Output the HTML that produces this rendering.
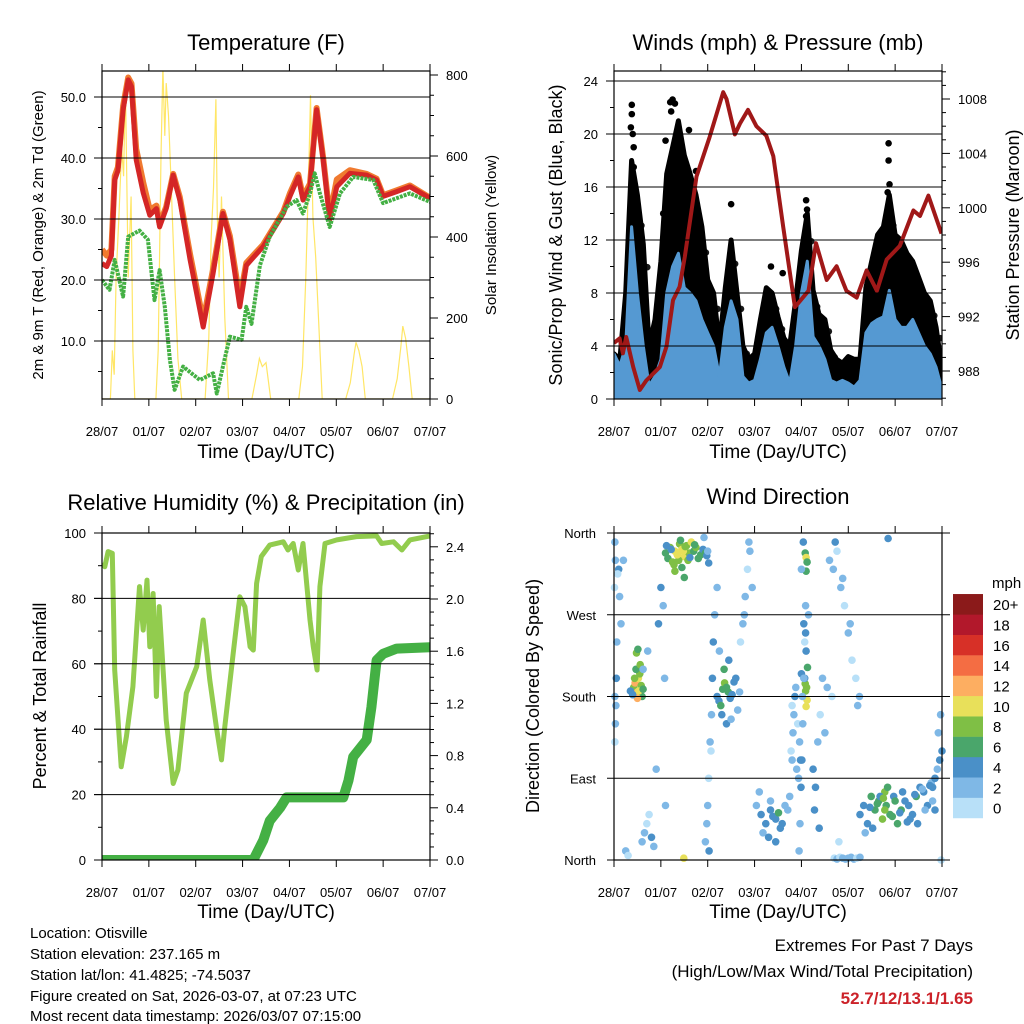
<!DOCTYPE html>
<html><head><meta charset="utf-8"><style>
html,body{margin:0;padding:0;background:#fff}
svg{display:block;font-family:"Liberation Sans",sans-serif}
</style></head><body>
<svg id="chart" width="1024" height="1024" viewBox="0 0 1024 1024">
<rect x="0" y="0" width="1024" height="1024" fill="#fff"/>
<defs>
<clipPath id="cT"><rect x="102" y="71" width="328" height="328"/></clipPath>
<clipPath id="cW"><rect x="614" y="71" width="328" height="328"/></clipPath>
<clipPath id="cR"><rect x="102" y="533" width="328" height="327"/></clipPath>
<clipPath id="cD"><rect x="610" y="529" width="336" height="335"/></clipPath>
</defs>
<g id="layer"></g>
<g font-size="22" text-anchor="middle" fill="#000">
<text x="266" y="50">Temperature (F)</text>
<text x="778" y="50">Winds (mph) &amp; Pressure (mb)</text>
<text x="266" y="510">Relative Humidity (%) &amp; Precipitation (in)</text>
<text x="778" y="504">Wind Direction</text>
</g>
<g font-size="19" text-anchor="middle">
<text x="266" y="458">Time (Day/UTC)</text>
<text x="778" y="458">Time (Day/UTC)</text>
<text x="266" y="918">Time (Day/UTC)</text>
<text x="778" y="918">Time (Day/UTC)</text>
</g>
<text transform="translate(43,235) rotate(-90)" font-size="15" text-anchor="middle">2m &amp; 9m T (Red, Orange) &amp; 2m Td (Green)</text>
<text transform="translate(496,235) rotate(-90)" font-size="15" text-anchor="middle">Solar Insolation (Yellow)</text>
<text transform="translate(562,235) rotate(-90)" font-size="18" text-anchor="middle">Sonic/Prop Wind &amp; Gust (Blue, Black)</text>
<text transform="translate(1019,235) rotate(-90)" font-size="18" text-anchor="middle">Station Pressure (Maroon)</text>
<text transform="translate(46,696) rotate(-90)" font-size="18" text-anchor="middle">Percent &amp; Total Rainfall</text>
<text transform="translate(539,696) rotate(-90)" font-size="18" text-anchor="middle">Direction (Colored By Speed)</text>
<g font-size="15">
<text x="30" y="938">Location: Otisville</text>
<text x="30" y="959">Station elevation: 237.165 m</text>
<text x="30" y="980">Station lat/lon: 41.4825; -74.5037</text>
<text x="30" y="1001">Figure created on Sat, 2026-03-07, at 07:23 UTC</text>
<text x="30" y="1021">Most recent data timestamp: 2026/03/07 07:15:00</text>
</g>
<g font-size="17" text-anchor="end">
<text x="973" y="951">Extremes For Past 7 Days</text>
<text x="973" y="977">(High/Low/Max Wind/Total Precipitation)</text>
<text x="973" y="1004" fill="#cc2229" font-weight="bold">52.7/12/13.1/1.65</text>
</g>
<text x="992" y="588" font-size="15">mph</text>
</svg>
<script>
// ---- data ----
const dayLabels = ["28/07","01/07","02/07","03/07","04/07","05/07","06/07","07/07"];
const tempT = [0,0.1,0.2,0.27,0.34,0.45,0.56,0.63,0.73,0.88,1.02,1.16,1.23,1.37,1.52,1.66,1.88,2.16,2.37,2.58,2.73,2.94,3.08,3.44,3.87,4.01,4.19,4.29,4.44,4.58,4.72,4.86,5.01,5.29,5.65,5.86,6.0,6.29,6.57,7.0];
const temp2m = [22.7,22.2,24.0,36.4,37.9,47.9,52.8,51.7,39.7,34.3,30.6,31.7,28.7,31.7,37.2,33.1,23.3,12.3,21.1,30.9,26.6,15.6,22.4,25.5,30.9,33.7,36.9,33.1,35.3,47.9,39.7,29.9,35.3,37.5,37.2,36.4,33.7,34.5,35.3,33.4];
const temp9m = [25.0,24.0,25.0,37.0,38.5,48.5,53.2,52.2,41.5,36.0,31.5,32.2,29.2,32.0,37.4,33.6,24.2,13.3,21.8,31.2,27.2,16.8,22.8,25.8,31.2,34.2,37.3,33.6,35.8,48.2,40.0,30.5,36.5,38.0,37.4,36.6,33.9,34.7,35.5,33.5];
const dewT = [0,0.16,0.27,0.45,0.56,0.8,0.98,1.12,1.23,1.34,1.45,1.55,1.73,2.09,2.37,2.45,2.58,2.73,2.98,3.08,3.19,3.37,3.58,3.94,4.15,4.29,4.44,4.54,4.65,4.86,5.08,5.36,5.79,6.0,6.57,7.0];
const dewV = [20.0,18.4,23.3,17.3,27.1,28.1,26.6,16.7,21.6,15.6,6.9,2.0,5.8,3.6,4.7,1.4,5.8,10.7,10.2,15.6,12.8,22.4,27.1,32.0,33.1,30.9,34.2,37.5,34.2,28.7,34.2,36.9,36.4,32.6,34.2,32.8];
const solarT = [0,0.18,0.22,0.26,0.3,0.36,0.42,0.46,0.5,0.56,0.62,0.66,0.7,1.15,1.2,1.26,1.3,1.34,1.37,1.42,1.48,1.55,1.62,1.7,2.2,2.28,2.33,2.38,2.43,2.46,2.5,2.55,2.62,2.7,3.2,3.3,3.36,3.42,3.5,3.6,4.2,4.28,4.35,4.42,4.45,4.5,4.56,4.62,4.7,5.2,5.3,5.38,5.42,5.48,5.55,5.62,6.2,6.3,6.38,6.42,6.48,6.55,6.62,7.0];
const solarV = [0,0,120,60,300,450,620,550,780,300,500,120,0,0,120,600,820,650,780,700,520,300,100,0,0,150,400,520,740,450,300,500,200,0,0,60,100,80,90,0,0,80,300,600,750,450,350,200,0,0,40,110,140,120,80,0,0,50,130,180,150,80,0,0];
const windT = [0,0.125,0.25,0.375,0.5,0.625,0.75,0.875,1,1.125,1.25,1.375,1.5,1.625,1.75,1.875,2,2.125,2.25,2.375,2.5,2.625,2.75,2.875,3,3.125,3.25,3.375,3.5,3.625,3.75,3.875,4,4.125,4.25,4.375,4.5,4.625,4.75,4.875,5,5.125,5.25,5.375,5.5,5.625,5.75,5.875,6,6.125,6.25,6.375,6.5,6.625,6.75,6.875,7];
const gustHi = [3.4,3,8,18,15.4,11.7,4,6,10.4,17,19,21,18.4,17,15.4,13,9,8,4,8.4,12,8,4,3,3.4,6,8.4,8,6.2,4.6,4,7.4,11.2,14,8.2,6.4,6,3.7,3,2.7,3.2,3,3,8.4,10.4,12.4,13,15.4,12.4,12,11,10.4,9.2,8,7.4,5.4,2.2];
const sustHi = [3.4,2.5,4,13,8,4,1,1.7,3,8,10,11,8.4,8,7.4,6,5,4,1.7,5.4,7.4,6,1.7,1.2,1.4,3,5,5.4,4,2.4,1.2,4,8,10.4,4.7,4,3,1.4,1.2,1.4,1.2,0.9,1.4,5,5.7,6,6.2,8.2,6,5.4,5.4,6,5,4,3.4,2.4,0.7];
const gustOutT = [0.38,0.38,0.4,0.42,0.42,1.2,1.25,1.22,1.3,1.45,1.75,2.5,4.1,4.12,4.1,5.86,5.86,5.88,5.84,3.35,3.6,1.05,0.36,1.1,1.6];
const gustOutV = [22.2,21.5,20,19,17.5,22.4,22.6,21.7,22.3,18.5,17.2,14.7,15,14.3,13.8,19.3,18,16.2,15.6,10,9.5,14,20.5,19.5,20.3];
const presT = [0,0.12,0.19,0.26,0.41,0.55,0.69,0.98,1.12,1.26,1.4,1.51,1.76,2.04,2.26,2.33,2.4,2.58,2.69,2.86,3.04,3.25,3.4,3.61,3.86,4.15,4.31,4.54,4.75,4.96,5.18,5.39,5.61,5.82,6.1,6.39,6.53,6.71,6.89,6.99];
const presV = [990.06,990.4,989.3,990.5,988.3,986.6,987.3,988.3,989.8,993.2,994.2,996.4,1002.3,1005.2,1007.7,1008.5,1008.0,1005.4,1006.2,1007.2,1006.0,1005.3,1003.8,998.6,992.7,993.9,997.4,994.7,995.7,993.9,993.4,995.4,993.9,996.2,997.2,999.8,999.4,1000.9,999.1,998.1];
const rhT = [0,0.06,0.13,0.22,0.27,0.41,0.52,0.66,0.8,0.88,0.96,1.02,1.09,1.16,1.22,1.37,1.52,1.62,1.8,2.02,2.16,2.3,2.44,2.55,2.62,2.8,2.94,3.05,3.16,3.23,3.3,3.4,3.58,3.87,3.97,4.08,4.19,4.29,4.44,4.51,4.59,4.65,4.76,5.01,5.43,5.86,5.97,6.22,6.4,6.57,7.0];
const rhV = [90.7,89.7,94.3,93.8,58.1,28.5,37.7,53,83.6,70.3,85.6,65.2,81.5,50,77.5,42.8,23.4,27.5,51,59.1,73.4,55,40.8,30.6,40.8,63.2,80.5,77.5,65.2,64.2,84.6,92.8,96.3,97.3,94.8,96.8,88.7,96.8,73.4,65.2,58.1,83.6,96.8,97.9,98.9,99.1,96.8,97.3,94.8,97.9,99.1];
const prT = [0,3.23,3.44,3.58,3.8,3.94,5.15,5.26,5.36,5.65,5.75,5.86,6.0,6.29,7.0];
const prV = [0,0,0.15,0.3,0.4,0.48,0.48,0.61,0.79,0.92,1.17,1.53,1.58,1.62,1.63];
const dirT = [1.1,1.15,1.2,1.25,1.3,1.35,1.4,1.45,1.5,1.55,1.6,1.65,1.7,1.75,1.8,1.85,1.9,1.95,1.28,1.38,1.42,1.48,1.52,1.58,1.35,1.45,1.62,1.72,1.12,1.22,1.98,2.02,1.3,1.5,
0.42,0.45,0.48,0.5,0.52,0.55,0.58,0.6,0.47,0.5,0.53,0.44,0.56,0.48,0.51,0.62,0.4,0.35,
2.2,2.24,2.28,2.32,2.36,2.4,2.44,2.48,2.52,2.56,2.6,2.64,2.3,2.4,2.5,2.35,2.45,2.25,2.68,
4.08,4.1,4.12,4.1,4.08,4.11,4.09,4.12,4.1,4.07,4.13,4.1,4.09,4.05,4.15,4.0,4.02,
5.25,5.33,5.41,5.49,5.57,5.65,5.73,5.78,5.81,5.89,5.97,6.05,6.13,6.21,6.29,6.37,6.45,6.53,6.61,6.69,6.77,6.85,5.36,5.52,5.68,5.84,6.0,6.16,6.32,6.48,6.64,6.8,5.46,5.62,5.75,5.78,5.94,6.1,6.26,6.42,6.58,6.74,
3.04,3.14,3.24,3.34,3.45,3.55,3.65,3.75,3.18,3.3,3.39,3.51,3.59,3.1,3.71,3.34,3.45,
0.02,0.03,0.01,0.05,0.02,0.04,0.03,0.02,0.06,0.1,0.12,0.15,0.2,0.25,0.3,0.08,
0.6,0.65,0.7,0.75,0.8,0.85,0.9,0.95,1.0,1.05,1.08,0.62,0.72,1.1,
1.95,1.98,2.0,2.02,2.05,2.08,2.1,2.12,2.15,2.2,2.0,1.92,2.03,2.07,
2.75,2.8,2.85,2.9,2.95,2.7,2.78,2.88,
3.78,3.8,3.82,3.84,3.86,3.88,3.9,3.92,3.94,3.8,3.96,3.98,
3.95,3.97,3.99,4.01,4.03,4.05,4.07,4.09,4.0,4.04,
4.25,4.3,4.35,4.4,4.45,4.55,4.65,4.28,4.38,4.5,
4.6,4.68,4.76,4.84,4.92,5.0,5.08,5.16,5.24,4.72,4.88,5.04,5.2,4.8,
4.7,4.76,4.82,4.88,4.94,5.0,5.06,5.12,5.18,5.25,
6.8,6.85,6.9,6.95,7.0,6.92,6.97,6.98,1.49,5.85];
const dirD = [338,332,344,328,340,336,348,342,334,346,338,350,340,344,332,336,342,338,325,330,352,340,345,330,336,322,333,347,346,342,335,327,318,311,
190,195,198,185,200,205,192,180,210,178,186,200,215,228,232,188,182,186,
180,175,170,188,195,190,185,178,182,196,200,165,160,150,155,210,220,230,185,
338,333,328,318,194,190,186,176,169,200,212,230,250,260,270,205,180,
50,60,40,70,55,65,45,75,60,50,70,40,55,65,60,50,70,80,75,60,85,55,30,35,70,80,65,75,45,40,55,65,58,62,68,55,48,52,42,72,78,82,
60,50,40,55,45,35,60,70,30,25,48,52,40,75,55,65,20,
350,330,300,200,180,170,150,130,240,320,290,260,330,10,5,315,
20,30,40,50,25,15,100,260,300,280,200,210,230,60,
20,40,60,90,130,160,200,240,270,300,340,355,10,120,
260,290,320,340,300,240,270,350,
120,110,140,160,180,190,100,150,90,170,130,110,
10,40,80,110,150,200,240,280,320,350,
100,80,130,160,200,190,180,55,35,140,
330,320,340,300,280,250,220,200,180,350,310,260,170,20,
2,1,3,2,1,2,3,1,2,3,
80,90,100,110,120,140,160,0,2,354];
const dirS = [5,6,7,8,9,10,8,9,10,8,7,9,6,8,6,5,4,5,7,8,6,9,8,7,10,6,4,5,3,4,4,3,7,6,
7,11,12,12,10,8,7,6,6,11,9,8,7,7,6,5,4,3,
4,3,5,6,7,6,5,4,3,4,3,2,4,4,2,5,3,2,1,
6,10,6,6,8,8,7,10,10,4,6,4,4,3,2,3,2,
4,3,4,5,6,5,7,8,6,5,4,6,5,4,3,4,5,4,3,4,2,3,2,3,4,6,5,4,3,3,2,2,4,6,8,7,5,4,3,3,2,4,
2,3,4,3,4,3,2,1,2,3,4,5,3,1,2,2,3,
1,2,0,3,2,1,1,0,2,4,1,2,1,1,0,0,
2,1,0,0,3,2,1,4,4,2,1,2,1,1,
1,2,1,0,2,1,3,4,2,1,2,1,4,0,
1,2,0,1,2,0,1,1,
0,1,2,1,3,2,1,0,1,0,2,3,
1,2,3,4,2,1,0,1,2,4,
4,3,1,0,1,2,0,4,3,1,
2,1,0,1,0,1,0,0,1,3,2,1,2,0,
0,1,0,1,2,1,2,1,0,1,
4,3,2,3,4,2,1,0,10,4];
const speedLabels = ["0","2","4","6","8","10","12","14","16","18","20+"];
const speedColors = ["#b8e0f8","#7fb8e6","#4a90c8","#4aa66b","#7fbf45","#e8e05a","#fdae61","#f46d43","#d73027","#b2182b","#8b1a1a"];

// ---- helpers ----
const NS = "http://www.w3.org/2000/svg";
const layer = document.getElementById("layer");
function mk(tag, name, parent, attrs) {
  const el = document.createElementNS(NS, tag);
  
  
  for (const k in attrs) el.setAttribute(k, attrs[k]);
  (parent || layer).appendChild(el);
  return el;
}
function txt(name, x, y, s, anchor, size, parent) {
  const t = mk("text", name, parent, {x: x, y: y, "text-anchor": anchor, "font-size": size});
  t.textContent = s;
  return t;
}
const PT = {l:102, r:430, t:71, b:399}, PW = {l:614, r:942, t:71, b:399};
const PR = {l:102, r:430, t:533, b:860}, PD = {l:614, r:942, t:533, b:860};
const xd = (p, d) => p.l + d / 7 * (p.r - p.l);
const yT = v => 402 - v * 6.1;
const yS = v => 399 - v * 0.405;
const yW = v => 399 - v * 13.25;
const yP = v => 371 - (v - 988) * 13.6;
const yR = v => 860 - v * 3.27;
const yPr = v => 860 - v * 130.5;
const yD = v => 860 - v / 360 * 327;
function linePts(p, ts, vs, yf) { return ts.map((t, i) => xd(p, t).toFixed(1) + "," + yf(vs[i]).toFixed(1)).join(" "); }

function frame(p, name) {
  mk("rect", name + "-frame", null, {x: p.l, y: p.t, width: p.r - p.l, height: p.b - p.t, fill: "none", stroke: "#000", "stroke-width": 1.2});
  dayLabels.forEach((lab, i) => {
    const x = xd(p, i);
    mk("line", name + "-xtick-bottom", null, {x1: x, x2: x, y1: p.b, y2: p.b + 7, stroke: "#000"});
    mk("line", name + "-xtick-top", null, {x1: x, x2: x, y1: p.t, y2: p.t - 7, stroke: "#000"});
    txt(name + "-xtick-label", x, p.b + 37, lab, "middle", 13);
  });
}
function yAxis(p, name, side, vals, yf, major, labels, gridVals) {
  vals.forEach(v => {
    const y = yf(v);
    const isMaj = major.indexOf(v) >= 0;
    const len = isMaj ? 8 : 4;
    if (side === "left") mk("line", name + "-tick", null, {x1: p.l - len, x2: p.l, y1: y, y2: y, stroke: "#000"});
    else mk("line", name + "-tick", null, {x1: p.r, x2: p.r + len, y1: y, y2: y, stroke: "#000"});
  });
  major.forEach((v, i) => {
    const y = yf(v);
    if (side === "left") txt(name + "-label", p.l - 16, y + 5, labels[i], "end", 13);
    else txt(name + "-label", p.r + 16, y + 5, labels[i], "start", 13);
  });
  (gridVals || []).forEach(v => {
    mk("line", name + "-gridline", null, {x1: p.l - 8, x2: p.r, y1: yf(v), y2: yf(v), stroke: "#000", "stroke-width": 1});
  });
}
function range(a, b, s) { const r = []; for (let v = a; v <= b + 1e-9; v += s) r.push(+v.toFixed(3)); return r; }

// ---- Temperature panel ----
const gT = mk("g", "temperature-plot", null, {"clip-path": "url(#cT)"});
mk("polyline", "solar-insolation-line", gT, {points: linePts(PT, solarT, solarV, yS), fill: "none", stroke: "#ffe666", "stroke-width": 1.2});
mk("polyline", "temp-9m-line", gT, {points: linePts(PT, tempT, temp9m, yT), fill: "none", stroke: "#f07a30", "stroke-width": 6, "stroke-linejoin": "round"});
mk("polyline", "temp-2m-line", gT, {points: linePts(PT, tempT, temp2m, yT), fill: "none", stroke: "#d42626", "stroke-width": 5, "stroke-linejoin": "round"});
mk("polyline", "dewpoint-line", gT, {points: linePts(PT, dewT, dewV, yT), fill: "none", stroke: "#44b044", "stroke-width": 4, "stroke-linejoin": "round", "stroke-dasharray": "3 1"});
yAxis(PT, "temperature-axis", "left", range(5, 50, 5), yT, [10, 20, 30, 40, 50], ["10.0", "20.0", "30.0", "40.0", "50.0"], [10, 20, 30, 40, 50]);
yAxis(PT, "solar-axis", "right", range(0, 800, 50), yS, [0, 200, 400, 600, 800], ["0", "200", "400", "600", "800"]);
frame(PT, "temperature");

// ---- Winds panel ----
const gW = mk("g", "winds-plot", null, {"clip-path": "url(#cW)"});
const gustPoly = windT.map((t, i) => xd(PW, t).toFixed(1) + "," + yW(gustHi[i]).toFixed(1));
mk("polygon", "gust-band", gW, {points: xd(PW, 0) + "," + yW(0) + " " + gustPoly.join(" ") + " " + xd(PW, 7) + "," + yW(0), fill: "#000", stroke: "#000", "stroke-width": 5, "stroke-linejoin": "round"});
gustOutT.forEach((t, i) => { mk("circle", "gust-point", gW, {cx: xd(PW, t), cy: yW(gustOutV[i]), r: 3.3, fill: "#000"}); });
windT.forEach((t, i) => { mk("circle", "gust-point", gW, {cx: xd(PW, t) + 4, cy: yW(gustHi[i] * 0.85), r: 3.3, fill: "#000", opacity: 0.9}); });
const sustPoly = windT.map((t, i) => xd(PW, t).toFixed(1) + "," + yW(sustHi[i]).toFixed(1));
mk("polygon", "sustained-wind-band", gW, {points: xd(PW, 0) + "," + yW(0) + " " + sustPoly.join(" ") + " " + xd(PW, 7) + "," + yW(0), fill: "#5599d2", stroke: "#5599d2", "stroke-width": 3, "stroke-linejoin": "round"});
mk("polyline", "pressure-line", gW, {points: linePts(PW, presT, presV, yP), fill: "none", stroke: "#a01818", "stroke-width": 4, "stroke-linejoin": "round"});
yAxis(PW, "wind-axis", "left", range(0, 24, 2), yW, [0, 4, 8, 12, 16, 20, 24], ["0", "4", "8", "12", "16", "20", "24"], [4, 8, 12, 16, 20, 24]);
yAxis(PW, "pressure-axis", "right", range(986, 1010, 1), yP, [988, 992, 996, 1000, 1004, 1008], ["988", "992", "996", "1000", "1004", "1008"]);
frame(PW, "winds");

// ---- RH panel ----
const gR = mk("g", "humidity-plot", null, {"clip-path": "url(#cR)"});
mk("polyline", "relative-humidity-line", gR, {points: linePts(PR, rhT, rhV, yR), fill: "none", stroke: "#92cc4e", "stroke-width": 5, "stroke-linejoin": "round"});
mk("polyline", "precipitation-line", gR, {points: linePts(PR, prT, prV, yPr), fill: "none", stroke: "#44b044", "stroke-width": 10, "stroke-linejoin": "round", "stroke-linecap": "round"});
yAxis(PR, "humidity-axis", "left", range(0, 100, 10), yR, [0, 20, 40, 60, 80, 100], ["0", "20", "40", "60", "80", "100"], [20, 40, 60, 80]);
yAxis(PR, "precip-axis", "right", range(0, 2.5, 0.1), yPr, [0, 0.4, 0.8, 1.2, 1.6, 2.0, 2.4], ["0.0", "0.4", "0.8", "1.2", "1.6", "2.0", "2.4"]);
frame(PR, "humidity");

// ---- Wind direction panel ----
const gD = mk("g", "direction-plot", null, {"clip-path": "url(#cD)"});
dirT.forEach((t, i) => {
  const idx = Math.min(10, Math.max(0, Math.round(dirS[i] / 2)));
  mk("circle", "direction-point", gD, {cx: xd(PD, t).toFixed(1), cy: yD(dirD[i]).toFixed(1), r: 3.8, fill: speedColors[idx]});
});
[90, 180, 270].forEach(v => { mk("line", "direction-gridline", null, {x1: 607, x2: 950, y1: yD(v), y2: yD(v), stroke: "#000"}); });
[0, 360].forEach(v => { mk("line", "direction-edge", null, {x1: 607, x2: 950, y1: yD(v), y2: yD(v), stroke: "#000"}); });
const dirLabels = ["North", "East", "South", "West", "North"];
[0, 90, 180, 270, 360].forEach((v, i) => txt("direction-label", 596, yD(v) + 5, dirLabels[i], "end", 13));
frame(PD, "direction");
speedLabels.forEach((lab, i) => {
  const y = 818 - (i + 1) * 20.36;
  mk("rect", "colorbar-box", null, {x: 953, y: y, width: 30, height: 20.6, fill: speedColors[i]});
  txt("colorbar-label", 993, y + 16, lab, "start", 15);
});
</script>
</body></html>
